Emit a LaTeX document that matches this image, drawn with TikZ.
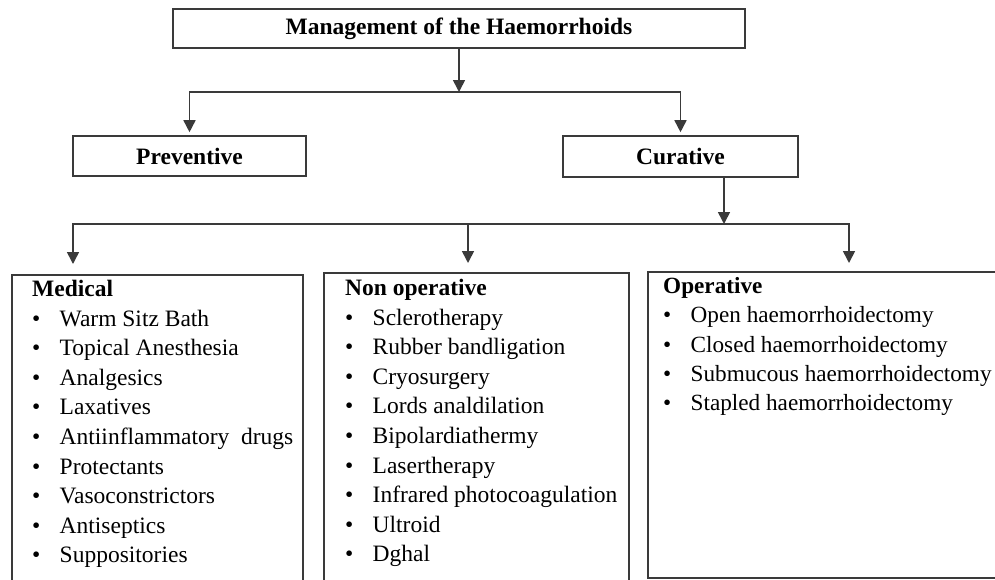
\documentclass[tikz,border=0pt]{standalone}
\usepackage{fontspec}
\setmainfont{Liberation Serif}
\usetikzlibrary{arrows.meta}
\definecolor{ink}{HTML}{3A3A3A}
\newcommand{\itm}[1]{\makebox[27.5pt][l]{\textbullet}#1}

\begin{document}
\begin{tikzpicture}[x=1pt,y=-1pt,
  box/.style={rectangle,draw=ink,line width=1.6pt,font=\fontsize{23.5}{29.6}\selectfont\bfseries,inner sep=0pt},
  listbox/.style={rectangle,draw=ink,line width=1.6pt,anchor=north west,inner sep=0pt},
  listtext/.style={anchor=north west,align=left,inner sep=0pt,font=\fontsize{23.5}{29.6}\selectfont},
  arrow/.style={-{Triangle[length=12pt,width=12pt]},line width=1.6pt,draw=ink},
]
\useasboundingbox (0,0) rectangle (995,579);
\clip (0,0) rectangle (995,579);

% TOP + SECOND LEVEL
\node[box,minimum width=572pt,minimum height=39pt] (mgmt) at (459,28.5) {Management of the Haemorrhoids};
\node[box,minimum width=233pt,minimum height=40pt] (prev) at (189.5,156) {Preventive};
\node[box,minimum width=235pt,minimum height=41pt] (cur) at (680.5,156.5) {Curative};

% JUNCTIONS
\coordinate (split1) at (459,92);
\coordinate (split2) at (724,224);
\coordinate (dmid) at (468,224);
\coordinate (tipmed) at (73,264);
\coordinate (tipnon) at (468,263);
\coordinate (tipop) at (849,263);

% BOTTOM LEVEL (lists)
\node[listbox,minimum width=291pt,minimum height=340pt] (med) at (11,274) {};
\node[listbox,minimum width=305pt,minimum height=340pt] (nonop) at (323,272) {};
\node[listbox,minimum width=370pt,minimum height=306pt] (oper) at (647,271) {};

\node[listtext] (medlist) at (32,280) {\textbf{Medical}\\
  \itm{Warm Sitz Bath}\\
  \itm{Topical Anesthesia}\\
  \itm{Analgesics}\\
  \itm{Laxatives}\\
  \itm{Antiinflammatory\ \ drugs}\\
  \itm{Protectants}\\
  \itm{Vasoconstrictors}\\
  \itm{Antiseptics}\\
  \itm{Suppositories}};
\node[listtext] (nonlist) at (345,279) {\textbf{Non operative}\\
  \itm{Sclerotherapy}\\
  \itm{Rubber bandligation}\\
  \itm{Cryosurgery}\\
  \itm{Lords analdilation}\\
  \itm{Bipolardiathermy}\\
  \itm{Lasertherapy}\\
  \itm{Infrared photocoagulation}\\
  \itm{Ultroid}\\
  \itm{Dghal}};
\node[listtext,font=\fontsize{23.2}{29.4}\selectfont] (oplist) at (663,277) {\textbf{Operative}\\
  \itm{Open haemorrhoidectomy}\\
  \itm{Closed haemorrhoidectomy}\\
  \itm{Submucous haemorrhoidectomy}\\
  \itm{Stapled haemorrhoidectomy}};

% EDGES
\draw[arrow] (mgmt.south) -- (split1);
\draw[arrow,shorten >=3pt] (split1) -| (prev.north);
\draw[arrow,shorten >=3pt] (split1) -| (cur.north);
\draw[arrow] (cur.south -| split2) -- (split2);
\draw[arrow] (split2) -| (tipmed);
\draw[arrow] (split2) -| (tipop);
\draw[arrow] (dmid) -- (tipnon);
\end{tikzpicture}
\end{document}
